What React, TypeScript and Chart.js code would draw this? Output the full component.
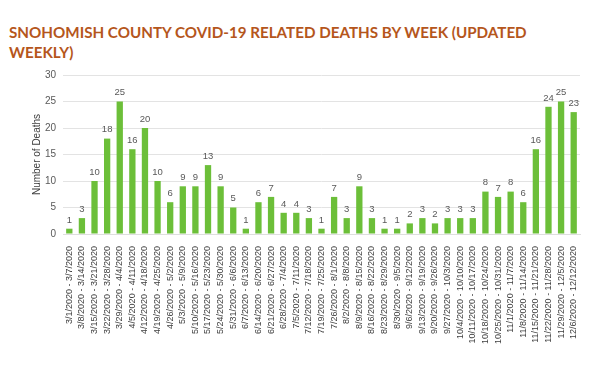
import React, { useEffect, useRef } from "react";
import { Chart, registerables } from "chart.js";

Chart.register(...registerables);

const weekLabels: string[] = [
  "3/1/2020 - 3/7/2020", "3/8/2020 - 3/14/2020", "3/15/2020 - 3/21/2020", "3/22/2020 - 3/28/2020",
  "3/29/2020 - 4/4/2020", "4/5/2020 - 4/11/2020", "4/12/2020 - 4/18/2020", "4/19/2020 - 4/25/2020",
  "4/26/2020 - 5/2/2020", "5/3/2020 - 5/9/2020", "5/10/2020 - 5/16/2020", "5/17/2020 - 5/23/2020",
  "5/24/2020 - 5/30/2020", "5/31/2020 - 6/6/2020", "6/7/2020 - 6/13/2020", "6/14/2020 - 6/20/2020",
  "6/21/2020 - 6/27/2020", "6/28/2020 - 7/4/2020", "7/5/2020 - 7/11/2020", "7/12/2020 - 7/18/2020",
  "7/19/2020 - 7/25/2020", "7/26/2020 - 8/1/2020", "8/2/2020 - 8/8/2020", "8/9/2020 - 8/15/2020",
  "8/16/2020 - 8/22/2020", "8/23/2020 - 8/29/2020", "8/30/2020 - 9/5/2020", "9/6/2020 - 9/12/2020",
  "9/13/2020 - 9/19/2020", "9/20/2020 - 9/26/2020", "9/27/2020 - 10/3/2020", "10/4/2020 - 10/10/2020",
  "10/11/2020 - 10/17/2020", "10/18/2020 - 10/24/2020", "10/25/2020 - 10/31/2020", "11/1/2020 - 11/7/2020",
  "11/8/2020 - 11/14/2020", "11/15/2020 - 11/21/2020", "11/22/2020 - 11/28/2020", "11/29/2020 - 12/5/2020",
  "12/6/2020 - 12/12/2020",
];

const deaths: number[] = [
  1, 3, 10, 18, 25, 16, 20, 10, 6, 9, 9, 13, 9, 5, 1, 6, 7, 4, 4, 3, 1,
  7, 3, 9, 3, 1, 1, 2, 3, 2, 3, 3, 3, 8, 7, 8, 6, 16, 24, 25, 23,
];

const yTicks: number[] = [0, 5, 10, 15, 20, 25, 30];

const titleText = "SNOHOMISH COUNTY COVID-19 RELATED DEATHS BY WEEK (UPDATED WEEKLY)";
const yAxisTitle = "Number of Deaths";

const valueLabels = {
  id: "valueLabels",
  afterDatasetsDraw(chart: any) {
    const ctx = chart.ctx;
    const meta = chart.getDatasetMeta(0);
    ctx.save();
    ctx.font = "9.5px 'Liberation Sans', Arial, sans-serif";
    ctx.fillStyle = "#595959";
    ctx.textAlign = "center";
    ctx.textBaseline = "bottom";
    meta.data.forEach((bar: any, i: number) => {
      ctx.fillText(String(chart.data.datasets[0].data[i]), bar.x, bar.y - 4);
    });
    ctx.restore();
  },
};

export default function App() {
  const canvasRef = useRef<HTMLCanvasElement | null>(null);

  useEffect(() => {
    if (!canvasRef.current) return;
    const chart = new Chart(canvasRef.current, {
      type: "bar",
      data: {
        labels: weekLabels,
        datasets: [
          {
            data: deaths,
            backgroundColor: "#6cbf39",
            barPercentage: 0.5,
            categoryPercentage: 1,
          },
        ],
      },
      options: {
        animation: false,
        responsive: true,
        maintainAspectRatio: false,
        layout: { padding: { top: 12, right: 20, bottom: 0, left: 31 } },
        plugins: { legend: { display: false }, tooltip: { enabled: false } },
        scales: {
          x: {
            grid: { display: false },
            border: { color: "#dedede" },
            ticks: {
              autoSkip: false,
              maxRotation: 90,
              minRotation: 90,
              color: "#404040",
              padding: 4,
              font: { family: "'Liberation Sans', Arial, sans-serif", size: 9 },
            },
            afterFit: (scale: any) => {
              scale.height = 118;
            },
          },
          y: {
            min: 0,
            max: 30,
            afterBuildTicks: (scale: any) => {
              scale.ticks = yTicks.map((v) => ({ value: v }));
            },
            grid: { color: "#e3e3e3", drawTicks: false },
            border: { display: false },
            ticks: {
              color: "#595959",
              padding: 7,
              font: { family: "'Liberation Sans', Arial, sans-serif", size: 10 },
            },
            title: {
              display: true,
              text: yAxisTitle,
              color: "#404040",
              padding: { top: 0, bottom: 1 },
              font: { family: "'Liberation Sans', Arial, sans-serif", size: 10 },
            },
            afterFit: (scale: any) => {
              scale.width = 32;
            },
          },
        },
      },
      plugins: [valueLabels],
    });
    return () => chart.destroy();
  }, []);

  return (
    <div style={{ position: "fixed", left: 0, top: 0, width: 613, height: 368, background: "#fff" }}>
      <div
        style={{
          position: "absolute",
          left: 9,
          top: 22,
          width: 540,
          fontFamily: "Lato, sans-serif",
          fontWeight: 700,
          fontSize: 15.2,
          lineHeight: "20px",
          color: "#b5561c",
        }}
      >
        {titleText}
      </div>
      <div style={{ position: "absolute", left: 0, top: 62, width: 600, height: 290 }}>
        <canvas ref={canvasRef} />
      </div>
    </div>
  );
}
